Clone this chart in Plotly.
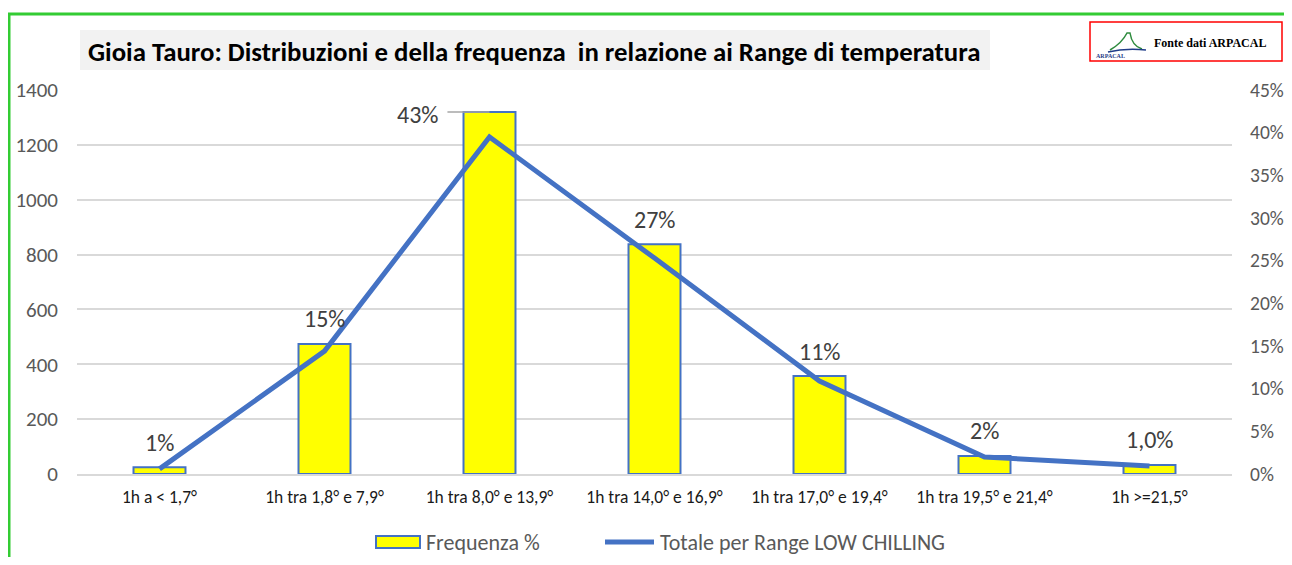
import plotly.graph_objects as go

# ---------------- data ----------------
categories = ["1h a < 1,7°", "1h tra 1,8° e 7,9°", "1h tra 8,0° e 13,9°",
              "1h tra 14,0° e 16,9°", "1h tra 17,0° e 19,4°",
              "1h tra 19,5° e 21,4°", "1h >=21,5°"]
bar_values = [25, 474, 1320, 838, 357, 66, 33]          # left axis
line_values = [0.006, 0.144, 0.395, 0.253, 0.109, 0.020, 0.0094]  # right axis
bar_labels = ["1%", "15%", "43%", "27%", "11%", "2%", "1,0%"]
series_names = ["Frequenza %", "Totale per Range LOW CHILLING"]
left_ticks = [0, 200, 400, 600, 800, 1000, 1200, 1400]
right_ticks = [0, 0.05, 0.10, 0.15, 0.20, 0.25, 0.30, 0.35, 0.40, 0.45]
right_tick_text = ["0%", "5%", "10%", "15%", "20%", "25%", "30%", "35%", "40%", "45%"]
title_text = "Gioia Tauro: Distribuzioni e della frequenza  in relazione ai Range di temperatura"

OFF = 8                     # browser body margin
W, H = 1292 - 2 * OFF, 565 - 2 * OFF
ML, MT = 77 - OFF, 90 - OFF
PW, PH = 1155, 384
MR = W - ML - PW
MB = H - MT - PH


def px(x):   # screenshot pixel -> paper
    return (x - OFF - ML) / PW


def py(y):
    return (MT + PH - (y - OFF)) / PH


FONT = "Calibri, Carlito, Lato, sans-serif"
BLUE = "#4472C4"
GRAY = "#595959"

fig = go.Figure()
fig.add_trace(go.Bar(
    x=categories, y=bar_values, name=series_names[0],
    marker=dict(color="#FFFF00", line=dict(color=BLUE, width=2)),
    width=0.315, yaxis="y", showlegend=False))
fig.add_trace(go.Scatter(
    x=categories, y=line_values, name=series_names[1],
    mode="lines", line=dict(color=BLUE, width=5), yaxis="y2", showlegend=False))

# data labels
for i, (v, t) in enumerate(zip(bar_values, bar_labels)):
    if i == 2:
        fig.add_annotation(x=i, y=v, xref="x", yref="y", text=t, showarrow=False,
                           xshift=-72, yshift=-3, yanchor="middle",
                           font=dict(family=FONT, size=24, color="#404040"))
        fig.add_shape(type="line", xref="x", yref="y", x0=i - 0.255, x1=i,
                      y0=v, y1=v, line=dict(color="#A6A6A6", width=1.5))
    else:
        fig.add_annotation(x=i, y=v, xref="x", yref="y", text=t, showarrow=False,
                           yshift=25, yanchor="middle",
                           font=dict(family=FONT, size=24, color="#404040"))

# title box
fig.add_shape(type="rect", xref="paper", yref="paper", x0=px(80), x1=px(990),
              y0=py(70), y1=py(30), fillcolor="#F2F2F2", line=dict(width=0), layer="below")
fig.add_annotation(xref="paper", yref="paper", x=px(534), y=py(51), yanchor="middle",
                   text="<b>" + title_text + "</b>",
                   showarrow=False, font=dict(family=FONT, size=26.8, color="#000000"))

# green frame
fig.add_shape(type="rect", xref="paper", yref="paper", x0=px(9), x1=px(1310),
              y0=py(590), y1=py(14), line=dict(color="#33CC33", width=3))

# source box
fig.add_shape(type="rect", xref="paper", yref="paper", x0=px(1090), x1=px(1282),
              y0=py(61), y1=py(22), line=dict(color="#FF0000", width=1.5),
              fillcolor="white")
fig.add_annotation(xref="paper", yref="paper", x=px(1152), y=py(43), xanchor="left",
                   yanchor="middle", text="<b>Fonte dati ARPACAL</b>", showarrow=False,
                   font=dict(family="Liberation Serif, Times New Roman, serif", size=12, color="#000"))
# logo
logo_path = "M {} {} Q {} {} {} {} L {} {} Q {} {} {} {}".format(
    px(1110), py(50), px(1122), py(43), px(1127), py(33),
    px(1130), py(33), px(1132), py(46), px(1142), py(49))
fig.add_shape(type="path", xref="paper", yref="paper", path=logo_path,
              line=dict(color="#2E8B3E", width=1.5))
swoosh = "M {} {} Q {} {} {} {}".format(px(1108), py(52), px(1125), py(48), px(1146), py(50))
fig.add_shape(type="path", xref="paper", yref="paper", path=swoosh,
              line=dict(color="#1F3C88", width=1.5))
fig.add_annotation(xref="paper", yref="paper", x=px(1127), y=py(56), yanchor="middle",
                   text="<b>ARPACAL</b>", showarrow=False,
                   font=dict(family="Liberation Serif, serif", size=6, color="#1F3C88"))

# custom legend
fig.add_shape(type="rect", xref="paper", yref="paper", x0=px(376), x1=px(420),
              y0=py(548), y1=py(536), fillcolor="#FFFF00", line=dict(color=BLUE, width=2))
fig.add_annotation(xref="paper", yref="paper", x=px(424), y=py(542), xanchor="left",
                   yanchor="middle", text=series_names[0], showarrow=False,
                   font=dict(family=FONT, size=22, color=GRAY))
fig.add_shape(type="line", xref="paper", yref="paper", x0=px(605), x1=px(654),
              y0=py(542), y1=py(542), line=dict(color=BLUE, width=5))
fig.add_annotation(xref="paper", yref="paper", x=px(658), y=py(542), xanchor="left",
                   yanchor="middle", text=series_names[1], showarrow=False,
                   font=dict(family=FONT, size=22, color=GRAY))

fig.update_layout(
    width=W, height=H,
    margin=dict(l=ML, r=MR, t=MT, b=MB, autoexpand=False),
    paper_bgcolor="white", plot_bgcolor="white",
    showlegend=False,
    xaxis=dict(type="category", range=[-0.5, 6.5], showgrid=False, ticks="",
               showline=True, linecolor="#D9D9D9", linewidth=1.5, ticklabelstandoff=6,
               tickfont=dict(family=FONT, size=17.5, color="#1A1A1A")),
    yaxis=dict(range=[0, 1400], tickvals=left_ticks, showgrid=True,
               gridcolor="#D9D9D9", gridwidth=1.5, zeroline=False, ticks="",
               ticklabelstandoff=18,
               tickfont=dict(family=FONT, size=21, color=GRAY)),
    yaxis2=dict(range=[0, 0.45], tickvals=right_ticks, ticktext=right_tick_text,
                overlaying="y", side="right", showgrid=False, zeroline=False, ticks="",
                ticklabelstandoff=17,
                tickfont=dict(family=FONT, size=19.5, color=GRAY)),
    font=dict(family=FONT),
)

fig.write_html("out.html")
